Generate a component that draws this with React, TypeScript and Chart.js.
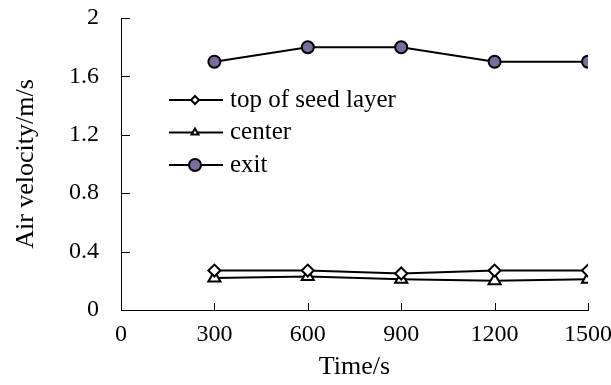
import React, { useEffect, useRef } from "react";
import { Chart, registerables } from "chart.js";

Chart.register(...registerables);

const times = [300, 600, 900, 1200, 1500];
const topOfSeedLayer = [0.27, 0.27, 0.25, 0.27, 0.27];
const center = [0.22, 0.23, 0.21, 0.2, 0.21];
const exitVel = [1.7, 1.8, 1.8, 1.7, 1.7];
const xTickValues = [0, 300, 600, 900, 1200, 1500];
const yTickValues = [0, 0.4, 0.8, 1.2, 1.6, 2];
const seriesNames = ["top of seed layer", "center", "exit"];

const FONT = "Liberation Serif";

function drawMarker(ctx: CanvasRenderingContext2D, style: string, x: number, y: number, r: number) {
  ctx.beginPath();
  if (style === "rectRot") {
    ctx.moveTo(x, y - r);
    ctx.lineTo(x + r, y);
    ctx.lineTo(x, y + r);
    ctx.lineTo(x - r, y);
    ctx.closePath();
  } else if (style === "triangle") {
    ctx.moveTo(x, y - r);
    ctx.lineTo(x + r * 0.87, y + r * 0.5);
    ctx.lineTo(x - r * 0.87, y + r * 0.5);
    ctx.closePath();
  } else {
    ctx.arc(x, y, r, 0, Math.PI * 2);
  }
  ctx.fill();
  ctx.stroke();
}

export default function App() {
  const ref = useRef<HTMLCanvasElement | null>(null);

  useEffect(() => {
    document.body.style.margin = "0";
    const canvas = ref.current;
    if (!canvas) return;

    const tickPlugin = {
      id: "tickMarks",
      afterDraw(chart: any) {
        const { ctx, scales, chartArea } = chart;
        ctx.save();
        ctx.strokeStyle = "#000";
        ctx.lineWidth = 1;
        xTickValues.forEach((v) => {
          if (v === 0) return;
          const x = Math.round(scales.x.getPixelForValue(v)) + 0.5;
          ctx.beginPath();
          ctx.moveTo(x, chartArea.bottom);
          ctx.lineTo(x, chartArea.bottom - 7);
          ctx.stroke();
        });
        yTickValues.forEach((v) => {
          if (v === 0) return;
          const y = Math.round(scales.y.getPixelForValue(v)) + 0.5;
          ctx.beginPath();
          ctx.moveTo(chartArea.left, y);
          ctx.lineTo(chartArea.left + 9, y);
          ctx.stroke();
        });
        ctx.restore();
      },
    };

    const legendPlugin = {
      id: "insideLegend",
      afterDraw(chart: any) {
        const { ctx, chartArea } = chart;
        ctx.save();
        const x0 = chartArea.left + 48;
        const y0 = chartArea.top + 82;
        const gap = 32.5;
        chart.data.datasets.forEach((ds: any, i: number) => {
          const y = y0 + i * gap;
          ctx.strokeStyle = "#000";
          ctx.lineWidth = 2;
          ctx.beginPath();
          ctx.moveTo(x0, y);
          ctx.lineTo(x0 + 54, y);
          ctx.stroke();
          ctx.fillStyle = ds.pointBackgroundColor;
          ctx.strokeStyle = "#000";
          ctx.lineWidth = 2;
          drawMarker(ctx, ds.pointStyle, x0 + 26, y, i === 2 ? 6 : 4);
          ctx.fillStyle = "#000";
          ctx.font = `normal 25px ${FONT}, serif`;
          ctx.textBaseline = "middle";
          ctx.textAlign = "left";
          ctx.fillText(ds.label, x0 + 61, y);
        });
        ctx.restore();
      },
    };

    const mk = (label: string, data: number[], style: string, fill: string, r: number) => ({
      label,
      data: data.map((v, i) => ({ x: times[i], y: v })),
      borderColor: "#000",
      borderWidth: 2,
      pointStyle: style,
      pointBackgroundColor: fill,
      pointBorderColor: "#000",
      pointBorderWidth: 2,
      pointRadius: r,
      tension: 0,
      fill: false,
    });

    const chart = new Chart(canvas, {
      type: "line",
      data: {
        datasets: [
          mk(seriesNames[0], topOfSeedLayer, "rectRot", "#fff", 6),
          mk(seriesNames[1], center, "triangle", "#fff", 7),
          mk(seriesNames[2], exitVel, "circle", "#7a6c9c", 6),
        ] as any,
      },
      options: {
        animation: false,
        responsive: false,
        layout: { padding: { top: 18, right: 23, left: 0, bottom: 0 } },
        plugins: { legend: { display: false }, tooltip: { enabled: false } },
        scales: {
          x: {
            type: "linear",
            min: 0,
            max: 1500,
            afterBuildTicks: (s: any) => {
              s.ticks = xTickValues.map((v) => ({ value: v }));
            },
            afterFit: (s: any) => {
              s.height = 75;
              s.paddingLeft = 0;
              s.paddingRight = 0;
            },
            grid: { display: false },
            border: { display: true, color: "#000", width: 1 },
            ticks: {
              color: "#000",
              font: { family: FONT, size: 24 },
              padding: 2,
              maxRotation: 0,
              callback: (v: any) => String(v),
            },
            title: {
              display: true,
              text: "Time/s",
              color: "#000",
              font: { family: FONT, size: 26 },
              padding: { top: 0, bottom: 2 },
            },
          },
          y: {
            type: "linear",
            min: 0,
            max: 2,
            afterBuildTicks: (s: any) => {
              s.ticks = yTickValues.map((v) => ({ value: v }));
            },
            afterFit: (s: any) => {
              s.width = 121;
              s.paddingTop = 0;
              s.paddingBottom = 0;
            },
            grid: { display: false },
            border: { display: true, color: "#000", width: 1 },
            ticks: {
              color: "#000",
              font: { family: FONT, size: 24 },
              padding: 14,
              callback: (v: any) => String(Math.round(Number(v) * 10) / 10),
            },
            title: {
              display: true,
              text: "Air velocity/m/s",
              color: "#000",
              font: { family: FONT, size: 26 },
              padding: { top: 11, bottom: 0 },
            },
          },
        },
      },
      plugins: [tickPlugin, legendPlugin],
    });

    return () => chart.destroy();
  }, []);

  return <canvas ref={ref} width={611} height={385} style={{ display: "block" }} />;
}
